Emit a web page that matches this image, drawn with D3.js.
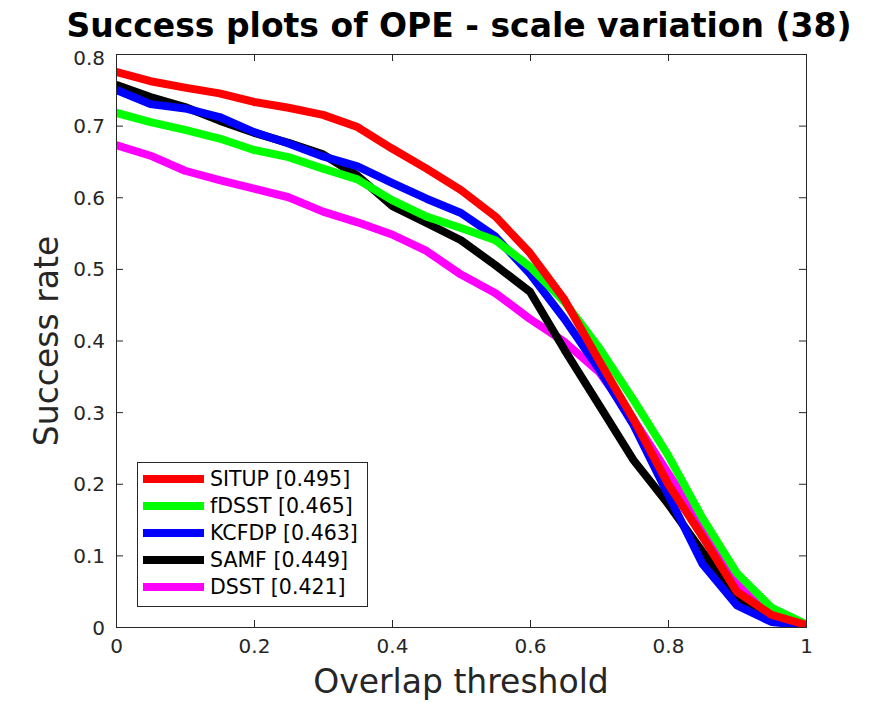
<!DOCTYPE html>
<html>
<head>
<meta charset="utf-8">
<script src="https://cdn.jsdelivr.net/npm/d3@7"></script>
<style>
  html, body { margin: 0; padding: 0; background: #fff; }
  svg { display: block; }
  text { font-family: "DejaVu Sans", sans-serif; }
</style>
</head>
<body>
<svg id="chart" width="891" height="703"></svg>
<script>
const thresholds = [0,0.05,0.1,0.15,0.2,0.25,0.3,0.35,0.4,0.45,0.5,0.55,0.6,0.65,0.7,0.75,0.8,0.85,0.9,0.95,1];
const seriesNames = ["SITUP [0.495]", "fDSST [0.465]", "KCFDP [0.463]", "SAMF [0.449]", "DSST [0.421]"];
const seriesColors = ["#ff0000", "#00ff00", "#0000ff", "#000000", "#ff00ff"];
const situp = [0.775,0.762,0.753,0.745,0.733,0.725,0.715,0.698,0.668,0.640,0.610,0.573,0.522,0.457,0.372,0.290,0.200,0.126,0.049,0.017,0.003];
const fdsst = [0.718,0.705,0.694,0.682,0.666,0.656,0.640,0.625,0.596,0.573,0.557,0.540,0.503,0.454,0.390,0.317,0.240,0.152,0.075,0.027,0.004];
const kcfdp = [0.750,0.730,0.724,0.712,0.691,0.675,0.657,0.643,0.620,0.598,0.578,0.545,0.493,0.430,0.360,0.282,0.185,0.088,0.030,0.007,0.002];
const samf  = [0.757,0.740,0.726,0.707,0.690,0.676,0.660,0.630,0.588,0.564,0.540,0.505,0.468,0.387,0.310,0.233,0.172,0.105,0.040,0.012,0.002];
const dsst  = [0.673,0.658,0.637,0.624,0.612,0.600,0.580,0.565,0.548,0.525,0.492,0.466,0.430,0.398,0.356,0.290,0.215,0.140,0.060,0.020,0.004];
const seriesValues = [situp, fdsst, kcfdp, samf, dsst];
const xTicks = [0,0.2,0.4,0.6,0.8,1];
const yTicks = [0,0.1,0.2,0.3,0.4,0.5,0.6,0.7,0.8];
const titleText = "Success plots of OPE - scale variation (38)";
const xLabel = "Overlap threshold";
const yLabel = "Success rate";

const svg = d3.select("#chart");
const L = 116, R = 806, T = 54, B = 627;
const x = d3.scaleLinear().domain([0,1]).range([L,R]);
const y = d3.scaleLinear().domain([0,0.8]).range([B,T]);
const axisColor = "#262626";
const fmt = d => d === 0 ? "0" : (d === 1 ? "1" : String(d));

// lines (clipped to axes)
svg.append("clipPath").attr("id","clip").append("rect").attr("x",L).attr("y",T).attr("width",R-L).attr("height",B-T);
const line = d3.line().x((d,i)=>x(thresholds[i])).y(d=>y(d));
const lg = svg.append("g").attr("clip-path","url(#clip)");
for (let s = seriesValues.length-1; s >= 0; s--) {
  lg.append("path").datum(seriesValues[s]).attr("d", line)
    .attr("fill","none").attr("stroke",seriesColors[s]).attr("stroke-width",8)
    .attr("stroke-linejoin","round").attr("stroke-linecap","butt");
}

// axes
const tickFont = 20;
const gx = svg.append("g").attr("transform",`translate(0,${B})`)
  .call(d3.axisBottom(x).tickValues(xTicks).tickFormat(fmt).tickSize(-7).tickPadding(12));
const gxt = svg.append("g").attr("transform",`translate(0,${T})`)
  .call(d3.axisTop(x).tickValues(xTicks).tickFormat("").tickSize(-7));
const gy = svg.append("g").attr("transform",`translate(${L},0)`)
  .call(d3.axisLeft(y).tickValues(yTicks).tickFormat(fmt).tickSize(-7).tickPadding(11));
const gyr = svg.append("g").attr("transform",`translate(${R},0)`)
  .call(d3.axisRight(y).tickValues(yTicks).tickFormat("").tickSize(-7));
[gx,gxt,gy,gyr].forEach(g => {
  g.selectAll("path.domain").attr("stroke",axisColor).attr("stroke-width",1);
  g.selectAll("line").attr("stroke",axisColor).attr("stroke-width",1);
  g.selectAll("text").attr("fill",axisColor).style("font-size",tickFont+"px").style("font-family","DejaVu Sans, sans-serif");
});
gy.selectAll("text").attr("dy","0.35em");
// nudge the top tick label slightly down so it clears the title
gy.selectAll(".tick").filter(d => d === 0.8).select("text").attr("dy","0.5em");

// title
svg.append("text").attr("x",459).attr("y",37).attr("text-anchor","middle")
  .style("font-size","33px").style("font-weight","bold").attr("fill","#000").text(titleText);
// axis labels
svg.append("text").attr("x",461).attr("y",693).attr("text-anchor","middle")
  .style("font-size","33px").attr("fill",axisColor).text(xLabel);
svg.append("text").attr("transform","translate(58,341) rotate(-90)").attr("text-anchor","middle")
  .style("font-size","33px").attr("fill",axisColor).text(yLabel);

// legend
const leg = svg.append("g");
leg.append("rect").attr("x",137.5).attr("y",462.5).attr("width",230).attr("height",144)
  .attr("fill","#fff").attr("stroke",axisColor).attr("stroke-width",1);
seriesNames.forEach((n,i) => {
  const yy = 479 + i*27;
  leg.append("line").attr("x1",143).attr("x2",204).attr("y1",yy).attr("y2",yy)
    .attr("stroke",seriesColors[i]).attr("stroke-width",8);
  leg.append("text").attr("x",210).attr("y",yy).attr("dy","0.35em")
    .style("font-size","20.5px").attr("fill","#000").text(n);
});
</script>
</body>
</html>
